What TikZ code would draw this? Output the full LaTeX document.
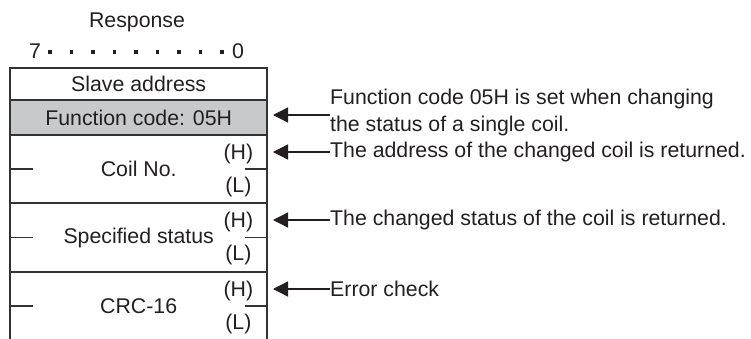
\documentclass[tikz,border=0pt]{standalone}
\usepackage{fontspec}
\setmainfont{Liberation Sans}
\usetikzlibrary{arrows.meta}
\definecolor{ink}{HTML}{231F20}
\definecolor{frame}{HTML}{333333}
\definecolor{shade}{HTML}{C8C9CA}
\begin{document}
\begin{tikzpicture}[x=1pt,y=-1pt,
  every node/.style={text=ink,font=\fontsize{21.3}{27}\selectfont,inner sep=0pt},
  row/.style={minimum width=257pt,anchor=north west},
  edge/.style={draw=frame,line width=1.9pt},
  tick/.style={draw=frame,line width=1.5pt},
  note/.style={anchor=west,align=left},
  pointer/.style={draw=ink,line width=1.3pt,-{Triangle[length=15pt,width=15pt]}}]
\useasboundingbox (0,0) rectangle (751,338);
% titles
\node (resp) at (137,22) {Response};
\node (b7) at (35,51) {7};
\node (b0) at (238,51) {0};
\foreach \i in {0,...,8}{\node[rectangle,fill=ink,minimum size=3.4pt,inner sep=0pt] (d\i) at ({50+\i*21.5},52) {};}
% rows
\node[row,minimum height=32pt] (sa) at (10,68) {};
\node at (sa.center) {Slave address};
\node[row,minimum height=35pt,fill=shade] (fc) at (10,100) {};
\node at (fc.center) {Function code: 05H};
\node[row,minimum height=68pt] (coil) at (10,135) {};
\node at (coil.center) {Coil No.};
\node[row,minimum height=69pt] (stat) at (10,203) {};
\node at (stat.center) {Specified status};
\node[row,minimum height=68pt] (crc) at (10,272) {};
\node at (crc.center) {CRC-16};
% H/L labels
\foreach \r in {coil,stat,crc}{
  \node (\r H) at ([yshift=-19pt]\r.north east) [xshift=-29pt] {(H)};
  \node (\r L) at ([yshift=-52pt]\r.north east) [xshift=-29pt] {(L)};
  \draw[tick] (\r.west) -- ++(23,0);
  \draw[tick] (\r.east) -- ++(-22,0);
}
% frame
\draw[edge] (crc.south west) -- (sa.north west) -- (sa.north east) -- (crc.south east);
\draw[edge] (sa.south west) -- (sa.south east);
\draw[edge] (fc.south west) -- (fc.south east);
\draw[edge] (coil.south west) -- (coil.south east);
\draw[edge] (stat.south west) -- (stat.south east);
% notes
\node[note] (n1) at (330,112) {Function code 05H is set when changing\\the status of a single coil.};
\node[note] (n2) at (330,152) {The address of the changed coil is returned.};
\node[note] (n3) at (330,220) {The changed status of the coil is returned.};
\node[note] (n4) at (330,289) {Error check};
\coordinate (t1) at (273,115);
\coordinate (t2) at (273,152);
\coordinate (t3) at (273,220);
\coordinate (t4) at (273,289);
\draw[pointer] (n1.west |- t1) -- (t1);
\draw[pointer] (n2.west) -- (t2);
\draw[pointer] (n3.west) -- (t3);
\draw[pointer] (n4.west) -- (t4);
\end{tikzpicture}
\end{document}
